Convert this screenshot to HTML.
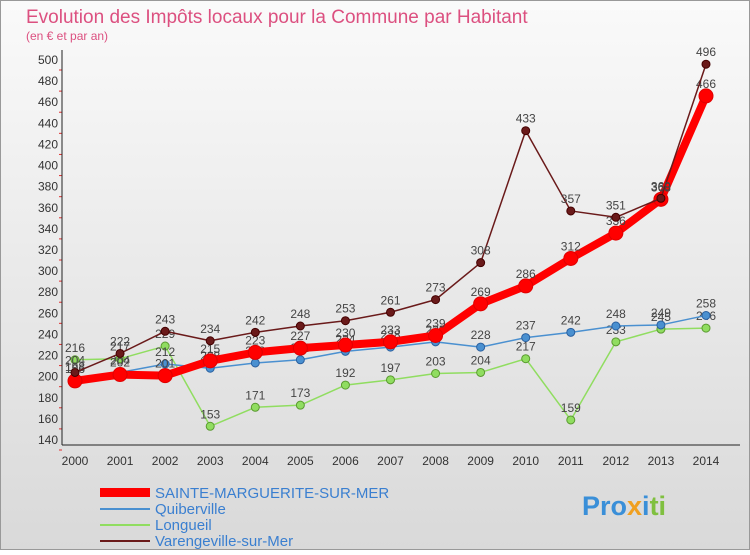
<!DOCTYPE html>
<html><head><meta charset="utf-8"><style>
body{margin:0;width:750px;height:550px;overflow:hidden;font-family:"Liberation Sans",sans-serif}
</style></head><body>
<svg id="c" width="750" height="550" xmlns="http://www.w3.org/2000/svg" font-family="Liberation Sans, sans-serif">
<defs><linearGradient id="bg" x1="0" y1="0" x2="0" y2="1"><stop offset="0" stop-color="#fafafa"/><stop offset="1" stop-color="#d9d9d9"/></linearGradient></defs>
<rect x="0.5" y="0.5" width="749" height="549" fill="url(#bg)" stroke="#999"/>
<text x="26" y="23" font-size="19" fill="#dc5080">Evolution des Impôts locaux pour la Commune par Habitant</text>
<text x="26" y="40" font-size="12" fill="#dc5080">(en € et par an)</text>
<g id="axes"></g><g id="series"></g>
<g font-size="15" fill="#3a7fd0">
<rect x="100" y="488" width="50" height="9" fill="#f00"/>
<text x="155" y="498">SAINTE-MARGUERITE-SUR-MER</text>
<line x1="100" y1="509" x2="150" y2="509" stroke="#4a90d0" stroke-width="2"/>
<text x="155" y="514">Quiberville</text>
<line x1="100" y1="525" x2="150" y2="525" stroke="#90dd60" stroke-width="2"/>
<text x="155" y="530">Longueil</text>
<line x1="100" y1="541" x2="150" y2="541" stroke="#6a1a1a" stroke-width="2"/>
<text x="155" y="546">Varengeville-sur-Mer</text>
</g>
<text x="582" y="515" font-size="27" font-weight="bold"><tspan fill="#3a8fd8">Pro</tspan><tspan fill="#f0a020">x</tspan><tspan fill="#3a8fd8">i</tspan><tspan fill="#80c040">ti</tspan></text>
</svg>
<script>
const years=[2000,2001,2002,2003,2004,2005,2006,2007,2008,2009,2010,2011,2012,2013,2014];
const yTicks=[140,160,180,200,220,240,260,280,300,320,340,360,380,400,420,440,460,480,500];
const sainte=[196,202,201,215,223,227,230,233,239,269,286,312,336,368,466];
const quiberville=[198,204,212,208,213,216,224,228,233,228,237,242,248,249,258];
const longueil=[216,217,229,153,171,173,192,197,203,204,217,159,233,245,246];
const varengeville=[204,222,243,234,242,248,253,261,273,308,433,357,351,369,496];
const NS="http://www.w3.org/2000/svg";
const X=i=>75+i*(706-75)/14;
const Y=v=>60+(500-v)*380/360;
function mk(t,a,p){const e=document.createElementNS(NS,t);for(const k in a)e.setAttribute(k,a[k]);p.appendChild(e);return e;}
const ax=document.getElementById('axes');
yTicks.forEach(v=>{
 const l=mk('line',{x1:59,x2:62,y1:Y(v)+10,y2:Y(v)+10,stroke:'#e03030','stroke-width':1},ax);
 
 
 const t=mk('text',{x:58,y:Y(v)+4,'font-size':12,'text-anchor':'end',fill:'#333'},ax);
 
 
 t.textContent=v;
});
const ya=mk('line',{x1:62,x2:62,y1:50,y2:445,stroke:'#222'},ax);


const xa=mk('line',{x1:62,x2:740,y1:445,y2:445,stroke:'#222'},ax);


years.forEach((y,i)=>{
 const t=mk('text',{x:X(i),y:465,'font-size':12,'text-anchor':'middle',fill:'#333'},ax);
 
 
 t.textContent=y;
});
const sg=document.getElementById('series');
function draw(data,color,w,r,name,dotStroke){
 const g=mk('g',{},sg);
 
 
 const p=mk('polyline',{points:data.map((v,i)=>X(i)+','+Y(v)).join(' '),fill:'none',stroke:color,'stroke-width':w,'stroke-linejoin':'round'},g);
 
 
 data.forEach((v,i)=>{
  const c=mk('circle',{cx:X(i),cy:Y(v),r:r,fill:color,stroke:dotStroke,'stroke-width':1},g);
  
  
  const t=mk('text',{x:X(i),y:Y(v)-8,'font-size':12,'text-anchor':'middle',fill:'#444'},g);
  
  
  t.textContent=v;
 });
}
draw(longueil,'#90dd60',1.5,4,'longueil','#5a9a30');
draw(quiberville,'#4a90d0',1.5,4,'quiberville','#2a60a0');
draw(sainte,'#ff0000',8,7,'sainte-marguerite','#e00000');
draw(varengeville,'#6a1a1a',1.5,4,'varengeville','#400');
</script>
</body></html>
